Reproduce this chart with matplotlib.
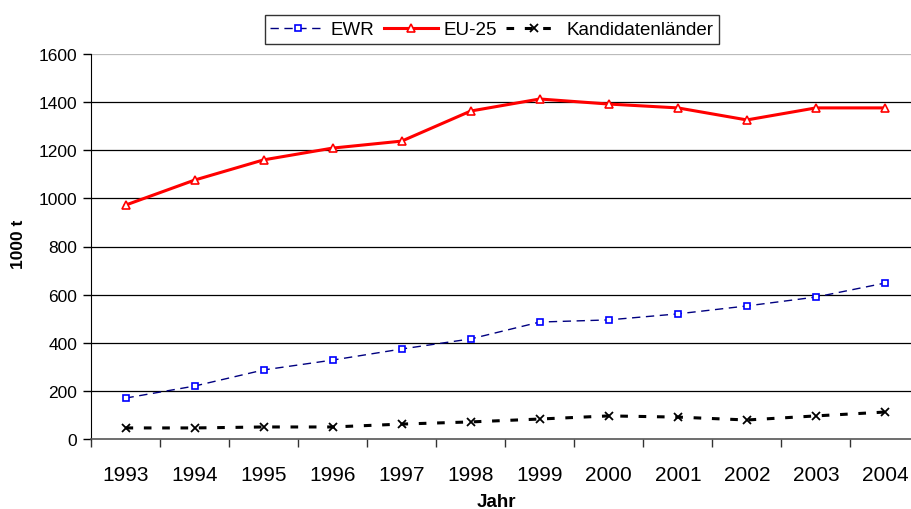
import matplotlib
matplotlib.use("Agg")
import matplotlib.pyplot as plt
import numpy as np

plt.rcParams['font.family'] = ['Liberation Sans', 'DejaVu Sans']

years = ["1993", "1994", "1995", "1996", "1997", "1998", "1999", "2000", "2001", "2002", "2003", "2004"]
ewr = [170, 220, 287, 328, 374, 416, 486, 495, 520, 553, 590, 648]
eu25 = [972, 1076, 1160, 1209, 1238, 1363, 1413, 1392, 1376, 1326, 1376, 1376]
kandidaten = [46, 46, 50, 50, 62, 71, 83, 96, 91, 79, 96, 112]

fig = plt.figure(figsize=(9.12, 5.10), dpi=100)
ax = fig.add_axes([91/912, 1-440/510, (919.5-91)/912, (440-55)/510])

x = np.arange(len(years))
ax.plot(x, ewr, color='#000080', lw=1.0, ls=(0, (6, 4)), marker='s', ms=5,
        mfc='white', mec='#0000FF', mew=1.2, label='EWR')
ax.plot(x, eu25, color='#FF0000', lw=2.2, ls='-', marker='^', ms=6,
        mfc='white', mec='#FF0000', mew=1.2, label='EU-25')
ax.plot(x, kandidaten, color='black', lw=2.2, ls=(0, (2.5, 3.5)), marker='x', ms=6,
        mec='black', mew=1.3, label='Kandidatenländer')

ax.set_xlim(-0.5, len(years) - 0.5)
ax.set_ylim(0, 1600)
ax.set_yticks(np.arange(0, 1601, 200))
ax.set_xticks(x)
ax.set_xticklabels(years)
ax.set_xticks(np.arange(-0.5, len(years), 1.0), minor=True)
ax.tick_params(axis='x', which='major', length=0, labelsize=15, pad=19)
ax.tick_params(axis='x', which='minor', length=6, width=1, color='#333333', direction='out')
ax.tick_params(axis='y', which='major', length=6, width=1, labelsize=12.5, direction='out', pad=4)

for v in np.arange(200, 1401, 200):
    ax.axhline(v, color='black', lw=0.9, zorder=0)
ax.axhline(1600, color='#BBBBBB', lw=0.9, zorder=0)
for s in ['top', 'right']:
    ax.spines[s].set_visible(False)
ax.spines['left'].set_color('black')
ax.spines['bottom'].set_color('#555555')
ax.spines['bottom'].set_linewidth(1.2)

fig.text(19/912, 1 - 244/510, '1000 t', fontsize=12.5, fontweight='bold',
         rotation=90, ha='center', va='center')
fig.text(496/912, 1 - 494/510, 'Jahr', fontsize=13.5, fontweight='bold', ha='center', va='top')

leg = fig.legend(loc='upper center', bbox_to_anchor=(492/912, 1-7/510), ncol=3, fontsize=13.5,
                 frameon=True, fancybox=False, edgecolor='black', handlelength=2.9,
                 columnspacing=0.5, handletextpad=0.3, borderpad=0.3)
leg.get_frame().set_linewidth(1.0)

fig.savefig('out.png', dpi=100)
